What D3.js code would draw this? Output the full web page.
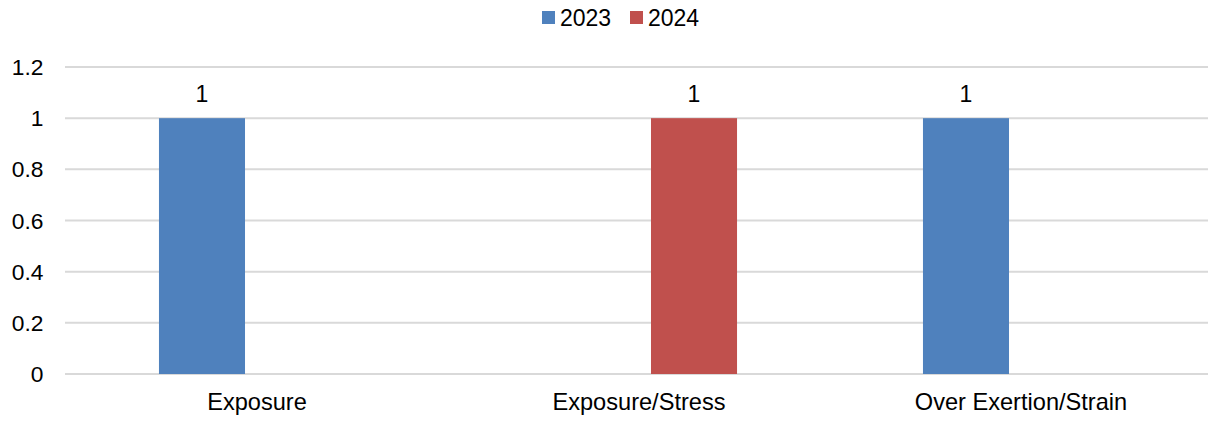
<!DOCTYPE html>
<html>
<head>
<meta charset="utf-8">
<script src="https://cdn.jsdelivr.net/npm/d3@7/dist/d3.min.js"></script>
<style>
  html, body { margin: 0; padding: 0; background: #fff; }
  svg { display: block; }
  text { font-family: "Liberation Sans", Arial, sans-serif; fill: #000; }
</style>
</head>
<body>
<svg id="chart" width="1208" height="427"></svg>
<script>
const categories = ["Exposure", "Exposure/Stress", "Over Exertion/Strain"];
const seriesNames = ["2023", "2024"];
const values2023 = [1, null, 1];
const values2024 = [null, 1, null];
const yTicks = [0, 0.2, 0.4, 0.6, 0.8, 1, 1.2];
const colors = ["#4F81BD", "#C0504D"];

const seriesValues = [values2023, values2024];
const svg = d3.select("#chart");
const plotLeft = 66, plotRight = 1212, gridLeft = 65, gridRight = 1208;

const x0 = d3.scaleBand().domain(categories).range([plotLeft, plotRight]).padding(0);
const x1 = d3.scaleBand().domain(seriesNames).range([0, x0.bandwidth()])
  .paddingInner(0.218).paddingOuter(0.845);
const y = d3.scaleLinear().domain([0, 1.2]).range([374, 67]);

// gridlines
svg.append("g").selectAll("line").data(yTicks).join("line")
  .attr("x1", gridLeft).attr("x2", gridRight)
  .attr("y1", d => y(d)).attr("y2", d => y(d))
  .attr("stroke", "#d9d9d9").attr("stroke-width", 2);

// y tick labels
svg.append("g").selectAll("text").data(yTicks).join("text")
  .attr("x", 43.5).attr("y", d => y(d) + 8)
  .attr("text-anchor", "end").attr("font-size", 22.8)
  .text(d => d3.format("~g")(d));

// bars
const rows = [];
categories.forEach((c, i) => {
  seriesNames.forEach((s, j) => {
    const v = seriesValues[j][i];
    if (v != null) rows.push({ c, s, v, j });
  });
});
svg.append("g").selectAll("rect").data(rows).join("rect")
  .attr("x", d => x0(d.c) + x1(d.s))
  .attr("width", x1.bandwidth())
  .attr("y", d => y(d.v))
  .attr("height", d => y(0) - y(d.v))
  .attr("fill", d => colors[d.j]);

// data labels
svg.append("g").selectAll("text").data(rows).join("text")
  .attr("x", d => x0(d.c) + x1(d.s) + x1.bandwidth() / 2)
  .attr("y", d => y(d.v) - 16)
  .attr("text-anchor", "middle").attr("font-size", 23)
  .text(d => d.v);

// category labels
svg.append("g").selectAll("text").data(categories).join("text")
  .attr("x", d => x0(d) + x0.bandwidth() / 2)
  .attr("y", 409.5)
  .attr("text-anchor", "middle").attr("font-size", 23.6)
  .text(d => d);

// legend
const legendX = [542, 630];
const lg = svg.append("g");
seriesNames.forEach((s, j) => {
  lg.append("rect").attr("x", legendX[j]).attr("y", 11)
    .attr("width", 13).attr("height", 13).attr("fill", colors[j]);
  lg.append("text").attr("x", legendX[j] + 18).attr("y", 25.5)
    .attr("font-size", 23).text(s);
});
</script>
</body>
</html>
